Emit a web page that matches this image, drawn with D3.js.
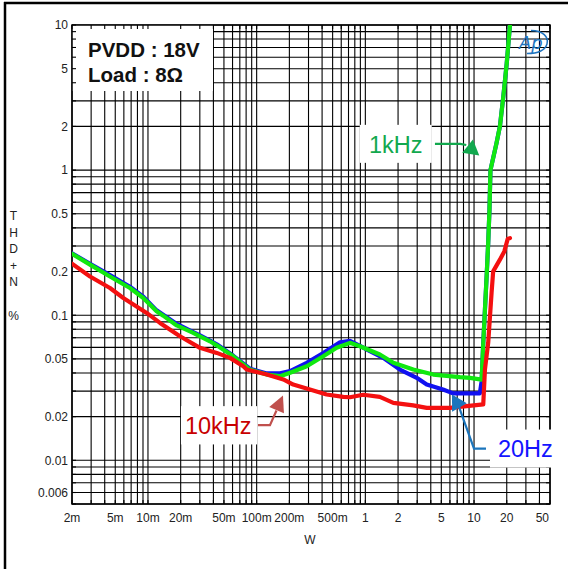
<!DOCTYPE html>
<html>
<head>
<meta charset="utf-8">
<script src="https://cdn.jsdelivr.net/npm/d3@7"></script>
<style>
  html, body { margin: 0; padding: 0; background: #fff; }
  svg { display: block; font-family: "Liberation Sans", Arial, sans-serif; }
</style>
</head>
<body>
<svg id="chart" width="568" height="569"></svg>
<script>
// THD+N (%) versus output power (W), PVDD 18 V into 8 ohm

// 1 kHz sweep
const power1k = [0.002, 0.00293, 0.00447, 0.00683, 0.00906, 0.012, 0.0138, 0.0184, 0.0261, 0.0301, 0.0372, 0.0429,
  0.061, 0.0868, 0.124, 0.164, 0.203, 0.289, 0.41, 0.544, 0.722, 0.892, 1.36, 1.81, 2.76, 4.22, 7.42, 9.17,
  11.75, 12.16, 12.6, 13.06, 13.5, 13.87, 14.16, 16.1, 17.3, 18.6, 20.0, 21.4];
const thd1k = [0.265, 0.223, 0.185, 0.154, 0.1315, 0.1064, 0.0993, 0.085, 0.0755, 0.0716, 0.0661, 0.062,
  0.0521, 0.0422, 0.039, 0.038, 0.0401, 0.0445, 0.0521, 0.0596, 0.0645, 0.0611, 0.0536, 0.047, 0.0422, 0.039, 0.0374, 0.037,
  0.036, 0.0645, 0.109, 0.185, 0.315, 0.533, 1.0, 1.535, 2.0, 3.21, 5.45, 10];

// 20 Hz sweep
const power20 = [0.002, 0.00293, 0.00447, 0.00683, 0.00906, 0.012, 0.0184, 0.0261, 0.0301, 0.0372, 0.0429, 0.061,
  0.0868, 0.124, 0.164, 0.203, 0.289, 0.41, 0.584, 0.722, 0.892, 1.1, 1.46, 2.08, 2.97, 3.67, 5.18, 6.0, 6.44,
  9.17, 11.3, 11.75, 12.16, 12.6, 13.06, 13.5, 13.87, 14.16, 16.1, 17.3, 18.6, 20.0, 21.4];
const thd20 = [0.267, 0.226, 0.189, 0.157, 0.134, 0.108, 0.087, 0.0765, 0.0725, 0.0668, 0.063, 0.0525,
  0.0428, 0.0397, 0.0398, 0.0412, 0.047, 0.0548, 0.0651, 0.0665, 0.0615, 0.0565, 0.0508, 0.0422, 0.037, 0.0333, 0.0308, 0.0295, 0.0289,
  0.0289, 0.0289, 0.0351, 0.0645, 0.109, 0.185, 0.315, 0.533, 1.0, 1.535, 2.0, 3.21, 5.45, 10];

// 10 kHz sweep
const power10k = [0.002, 0.00293, 0.00447, 0.00593, 0.00973, 0.0129, 0.0197, 0.0301, 0.0429, 0.0568, 0.0753, 0.081,
  0.107, 0.124, 0.176, 0.217, 0.309, 0.44, 0.627, 0.722, 0.957, 1.36, 1.81, 2.76, 3.67, 6.0, 8.55,
  12.16, 12.6, 13.5, 14.5, 15.0, 17.3, 19.0, 20.4, 21.4];
const thd10k = [0.2265, 0.185, 0.154, 0.1315, 0.1037, 0.0885, 0.0716, 0.0596, 0.055, 0.0508, 0.0445, 0.0422,
  0.0401, 0.039, 0.0361, 0.0333, 0.0308, 0.0284, 0.0274, 0.0272, 0.0283, 0.0274, 0.0249, 0.0239, 0.023, 0.023, 0.0236,
  0.0243, 0.0422, 0.0645, 0.1423, 0.2005, 0.2415, 0.2753, 0.335, 0.34];

// Axis tick labels
const xTickValues = [0.002, 0.005, 0.01, 0.02, 0.05, 0.1, 0.2, 0.5, 1, 2, 5, 10, 20, 50];
const xTickLabels = ["2m", "5m", "10m", "20m", "50m", "100m", "200m", "500m", "1", "2", "5", "10", "20", "50"];
const yTickValues = [10, 5, 2, 1, 0.5, 0.2, 0.1, 0.05, 0.02, 0.01, 0.006];
const yTickLabels = ["10", "5", "2", "1", "0.5", "0.2", "0.1", "0.05", "0.02", "0.01", "0.006"];

const svg = d3.select("#chart");
const L = 72, R = 550, T = 25, B = 504;

const x = d3.scaleLog().domain([0.002, 50]).range([L, R]);
const y = d3.scaleLog().domain([0.005, 10]).range([B, T]);

// outer frame (top and left edges)
svg.append("line").attr("x1", 4).attr("x2", 568).attr("y1", 3).attr("y2", 3)
  .attr("stroke", "#000").attr("stroke-width", 2.5);
svg.append("line").attr("x1", 5).attr("x2", 5).attr("y1", 2).attr("y2", 569)
  .attr("stroke", "#000").attr("stroke-width", 2.5);

// grid values: every 1..9 step of each decade
const xGrid = [];
for (let e = -3; e <= 1; e++) for (let m = 1; m <= 9; m++) {
  const v = m * Math.pow(10, e);
  if (v >= 0.002 - 1e-9 && v <= 50 + 1e-9) xGrid.push(v);
}
const yGrid = [];
for (let e = -3; e <= 1; e++) for (let m = 1; m <= 9; m++) {
  const v = m * Math.pow(10, e);
  if (v >= 0.005 - 1e-9 && v <= 10 + 1e-9) yGrid.push(v);
}

const grid = svg.append("g").attr("stroke", "#000").attr("stroke-width", 1.1);
grid.selectAll(".vx").data(xGrid).join("line")
  .attr("x1", d => x(d)).attr("x2", d => x(d)).attr("y1", T).attr("y2", B);
grid.selectAll(".hy").data(yGrid).join("line")
  .attr("x1", L).attr("x2", R).attr("y1", d => y(d)).attr("y2", d => y(d));

// condition box
svg.append("rect").attr("x", L).attr("y", T).attr("width", 141).attr("height", 66).attr("fill", "#fff");
const cond = svg.append("g").attr("font-weight", "bold").attr("font-size", 20.5).attr("fill", "#111");
cond.append("text").attr("x", 88).attr("y", 57).text("PVDD : 18V");
cond.append("text").attr("x", 88).attr("y", 82).text("Load : 8\u03A9");

// inward tick marks on all four sides
const ticks = svg.append("g").attr("stroke", "#000").attr("stroke-width", 1.1);
xGrid.forEach(v => {
  ticks.append("line").attr("x1", x(v)).attr("x2", x(v)).attr("y1", T).attr("y2", T + 4);
  ticks.append("line").attr("x1", x(v)).attr("x2", x(v)).attr("y1", B).attr("y2", B - 4);
});
yGrid.forEach(v => {
  ticks.append("line").attr("x1", L).attr("x2", L + 4).attr("y1", y(v)).attr("y2", y(v));
  ticks.append("line").attr("x1", R).attr("x2", R - 4).attr("y1", y(v)).attr("y2", y(v));
});

// plot border
svg.append("rect").attr("x", L).attr("y", T).attr("width", R - L).attr("height", B - T)
  .attr("fill", "none").attr("stroke", "#000").attr("stroke-width", 1.5);

// tick labels
const lab = svg.append("g").attr("font-size", 12).attr("fill", "#222");
lab.selectAll(".xl").data(xTickValues).join("text")
  .attr("x", d => x(d)).attr("y", 521.5)
  .attr("text-anchor", (d, i) => i === xTickValues.length - 1 ? "end" : "middle")
  .attr("dx", (d, i) => i === xTickValues.length - 1 ? -1 : 0)
  .text((d, i) => xTickLabels[i]);
lab.selectAll(".yl").data(yTickValues).join("text")
  .attr("x", 68).attr("y", d => y(d)).attr("dy", "0.36em")
  .attr("text-anchor", "end")
  .text((d, i) => yTickLabels[i]);

// axis titles
lab.append("text").attr("x", 310).attr("y", 543.5).attr("text-anchor", "middle").text("W");
const yTitle = [["T", 219.5], ["H", 237], ["D", 252.5], ["+", 270], ["N", 286], ["%", 319.5]];
lab.selectAll(".yt").data(yTitle).join("text")
  .attr("x", 13.5).attr("y", d => d[1]).attr("text-anchor", "middle").text(d => d[0]);

// curves
const clip = svg.append("clipPath").attr("id", "plotclip");
clip.append("rect").attr("x", L).attr("y", T).attr("width", R - L).attr("height", B - T);

const line = d3.line().x(d => x(d[0])).y(d => y(d[1]));
const series = [
  { p: power20, t: thd20, color: "#1010f0" },
  { p: power1k, t: thd1k, color: "#10e810" },
  { p: power10k, t: thd10k, color: "#f41010" }
];
const curves = svg.append("g").attr("clip-path", "url(#plotclip)");
series.forEach(s => {
  curves.append("path")
    .datum(s.p.map((v, i) => [v, s.t[i]]))
    .attr("d", line)
    .attr("fill", "none")
    .attr("stroke", s.color)
    .attr("stroke-width", 4.2)
    .attr("stroke-linejoin", "round")
    .attr("stroke-linecap", "round");
});

// callouts: arrow tip in data units, everything else offset from it in pixels
const callouts = [
  { text: "1kHz", textColor: "#12a84e", arrowColor: "#12a84e", tip: [11.17, 1.26],
    box: [-119.5, -30.7, 72, 38], textPos: [-110.3, -2.4],
    shaft: [[-44.3, -11.7], [-19, -11.7], [-13, -10.5]], headLen: 15, headHalf: 8.5 },
  { text: "10kHz", textColor: "#c80000", arrowColor: "#c0504d", tip: [0.1746, 0.028],
    box: [-102, 10.7, 76.3, 38.3], textPos: [-98, 39],
    shaft: [[-25, 29.7], [-13, 29.7], [-6.5, 15]], headLen: 16, headHalf: 8 },
  { text: "20Hz", textColor: "#1414ff", arrowColor: "#1b75bc", tip: [6.27, 0.0284],
    box: [38, 35, 64, 38], textPos: [46, 62.3],
    shaft: [[34, 54], [22, 54], [6.7, 11.7]], headLen: 15, headHalf: 8.5 }
];

const notes = svg.append("g");
callouts.forEach(c => {
  const tx = x(c.tip[0]), ty = y(c.tip[1]);
  notes.append("rect")
    .attr("x", tx + c.box[0]).attr("y", ty + c.box[1])
    .attr("width", c.box[2]).attr("height", c.box[3]).attr("fill", "#fff");
  notes.append("text")
    .attr("x", tx + c.textPos[0]).attr("y", ty + c.textPos[1])
    .attr("font-size", 23.5).attr("fill", c.textColor).text(c.text);
  const pts = c.shaft.map(p => [tx + p[0], ty + p[1]]);
  notes.append("path")
    .attr("d", d3.line()(pts))
    .attr("fill", "none").attr("stroke", c.arrowColor).attr("stroke-width", 2.2);
  // arrowhead triangle pointing from last shaft point to the tip
  const last = pts[pts.length - 1];
  const dx = tx - last[0], dy = ty - last[1];
  const len = Math.hypot(dx, dy), ux = dx / len, uy = dy / len;
  const bx = tx - ux * c.headLen, by = ty - uy * c.headLen;
  const head = [[tx, ty], [bx - uy * c.headHalf, by + ux * c.headHalf], [bx + uy * c.headHalf, by - ux * c.headHalf]];
  notes.append("path").attr("d", d3.line()(head) + "Z").attr("fill", c.arrowColor);
});

// instrument logo in the top-right corner
const logo = svg.append("g").attr("fill", "#1e73be").attr("stroke", "#1e73be");
logo.append("text").attr("x", 519).attr("y", 49).attr("font-size", 18)
  .attr("font-style", "italic").attr("font-family", "DejaVu Sans, sans-serif")
  .attr("stroke", "none").text("Ap");
logo.append("path").attr("d", "M531,30.5 C543,30.5 549,37 547,44 C545,50.5 537,53.5 527,53.5")
  .attr("fill", "none").attr("stroke-width", 1.5);
</script>
</body>
</html>
